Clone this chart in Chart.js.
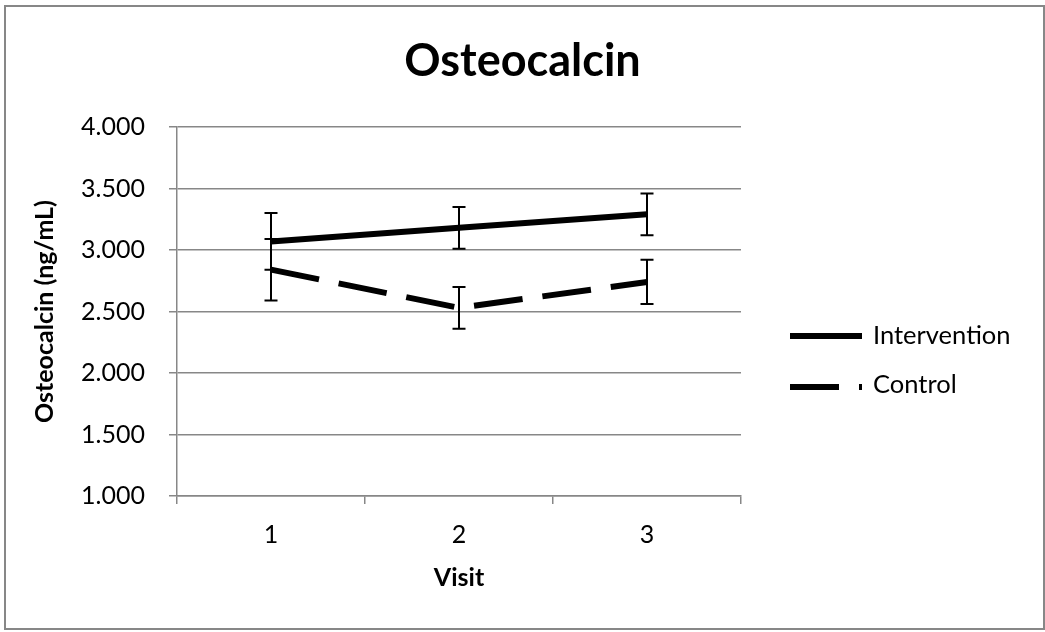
<!DOCTYPE html>
<html>
<head>
<meta charset="utf-8">
<script src="https://cdn.jsdelivr.net/npm/chart.js@4.4.1/dist/chart.umd.min.js"></script>
<style>
  html, body { margin: 0; padding: 0; background: #ffffff; }
  #wrap { width: 1045px; height: 632px; position: relative; }
</style>
</head>
<body>
<div id="wrap"><canvas id="chart" width="1045" height="632"></canvas></div>
<script>
// Osteocalcin by visit, mean ± error, two study arms
const visits = ['1', '2', '3'];
const interventionMean = [3.07, 3.18, 3.29];
const interventionErr  = [0.23, 0.17, 0.17];
const controlMean      = [2.84, 2.53, 2.74];
const controlErr       = [0.25, 0.17, 0.18];
const yTickValues      = [1.0, 1.5, 2.0, 2.5, 3.0, 3.5, 4.0];

const FONT = 'Lato, "Open Sans", sans-serif';
const GRID = '#878787';

// Vertical error bars with end caps, placed through the chart scales
const errorBars = {
  id: 'errorBars',
  afterDatasetsDraw(chart) {
    const { ctx, scales: { x, y } } = chart;
    ctx.save();
    ctx.strokeStyle = '#000000';
    ctx.lineWidth = 2;
    ctx.setLineDash([]);
    chart.data.datasets.forEach((ds) => {
      ds.data.forEach((v, j) => {
        const e = ds.errors[j];
        const px = x.getPixelForValue(j);
        const top = y.getPixelForValue(v + e);
        const bot = y.getPixelForValue(v - e);
        const cap = 6.5;
        ctx.beginPath();
        ctx.moveTo(px, top); ctx.lineTo(px, bot);
        ctx.moveTo(px - cap, top); ctx.lineTo(px + cap, top);
        ctx.moveTo(px - cap, bot); ctx.lineTo(px + cap, bot);
        ctx.stroke();
      });
    });
    ctx.restore();
  }
};

// Legend to the right of the plot, line samples followed by labels
const sideLegend = {
  id: 'sideLegend',
  afterDraw(chart) {
    const { ctx, chartArea } = chart;
    const x0 = chartArea.right + 49;
    const len = 72;
    const rows = [336, 387];
    const textRows = [336, 385];
    chart.data.datasets.forEach((ds, i) => {
      ctx.save();
      ctx.strokeStyle = ds.borderColor;
      ctx.lineWidth = ds.borderWidth;
      ctx.lineCap = 'butt';
      ctx.setLineDash(ds.borderDash || []);
      ctx.beginPath();
      ctx.moveTo(x0, rows[i]);
      ctx.lineTo(x0 + len, rows[i]);
      ctx.stroke();
      ctx.setLineDash([]);
      ctx.fillStyle = '#000000';
      ctx.font = '25.5px ' + FONT;
      ctx.textBaseline = 'middle';
      ctx.textAlign = 'left';
      ctx.fillText(ds.label, x0 + len + 11, textRows[i]);
      ctx.restore();
    });
  }
};

// Outer frame of the chart
const frame = {
  id: 'frame',
  beforeDraw(chart) {
    const { ctx } = chart;
    ctx.save();
    ctx.fillStyle = '#ffffff';
    ctx.fillRect(0, 0, chart.width, chart.height);
    ctx.strokeStyle = GRID;
    ctx.lineWidth = 2;
    ctx.strokeRect(5, 6, 1039, 623);
    ctx.restore();
  }
};

new Chart(document.getElementById('chart'), {
  type: 'line',
  data: {
    labels: visits,
    datasets: [
      {
        label: 'Intervention',
        data: interventionMean,
        errors: interventionErr,
        borderColor: '#000000',
        backgroundColor: '#000000',
        borderWidth: 6,
        pointRadius: 0,
        tension: 0
      },
      {
        label: 'Control',
        data: controlMean,
        errors: controlErr,
        borderColor: '#000000',
        backgroundColor: '#000000',
        borderWidth: 6,
        borderDash: [49, 20],
        pointRadius: 0,
        tension: 0
      }
    ]
  },
  options: {
    responsive: false,
    animation: false,
    devicePixelRatio: 1,
    layout: { padding: { left: 8, right: 8, top: 8, bottom: 8 } },
    plugins: {
      legend: { display: false },
      tooltip: { enabled: false },
      title: {
        display: true,
        text: 'Osteocalcin',
        color: '#000000',
        font: { family: FONT, size: 45, weight: 'bold' },
        padding: { top: 26, bottom: 39 }
      }
    },
    scales: {
      x: {
        type: 'category',
        offset: true,
        grid: { display: true, drawOnChartArea: false, offset: true, color: GRID, lineWidth: 1.5, tickLength: 8 },
        border: { color: GRID, width: 1.5 },
        ticks: { color: '#000000', font: { family: FONT, size: 25 }, padding: 16, maxRotation: 0 },
        title: { display: true, text: 'Visit', color: '#000000', font: { family: FONT, size: 25, weight: 'bold' }, padding: { top: 0, bottom: 31 } },
        afterFit(s) { s.height = 128; }
      },
      y: {
        type: 'linear',
        min: 1,
        max: 4,
        afterBuildTicks(s) { s.ticks = yTickValues.map(v => ({ value: v })); },
        grid: { color: GRID, lineWidth: 1.5, tickLength: 8 },
        border: { color: GRID, width: 1.5 },
        ticks: { color: '#000000', font: { family: FONT, size: 25 }, padding: 24, callback: v => Number(v).toFixed(3) },
        title: { display: true, text: 'Osteocalcin (ng/mL)', color: '#000000', font: { family: FONT, size: 25, weight: 'bold' }, padding: { top: 22, bottom: 0 } },
        afterFit(s) { s.width = 169; }
      },
      side: {
        type: 'linear',
        position: 'right',
        display: true,
        grid: { display: false, drawTicks: false },
        border: { display: false },
        ticks: { display: false },
        afterFit(s) { s.width = 296; }
      }
    }
  },
  plugins: [frame, errorBars, sideLegend]
});
</script>
</body>
</html>
